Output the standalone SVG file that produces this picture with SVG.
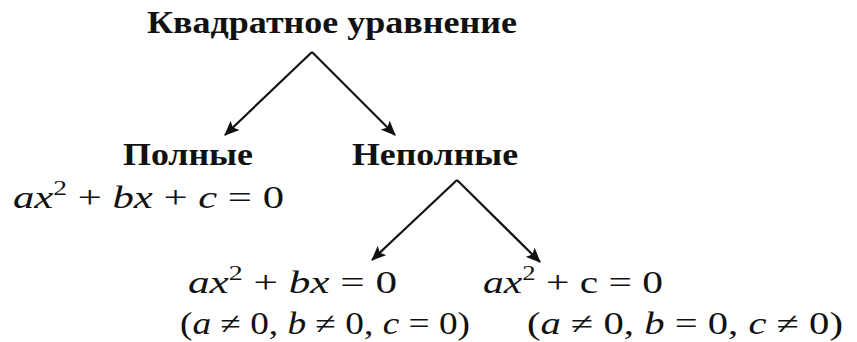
<svg xmlns="http://www.w3.org/2000/svg" width="857" height="342" viewBox="0 0 857 342">
<defs>
<marker id="ah" viewBox="0 0 14 12" refX="13" refY="6" markerWidth="15" markerHeight="13" orient="auto" markerUnits="userSpaceOnUse">
<path d="M0,0 L14,6 L0,12 L3,6 z" fill="#111"/>
</marker>
<style>
.h{font-family:"Liberation Serif","Times New Roman",serif;font-weight:bold;font-size:32px;fill:#111}
.m{font-family:"Liberation Serif","Times New Roman",serif;font-size:31px;fill:#111}
.i{font-style:italic}
.c line{stroke:#111;stroke-width:2.2}
</style>
</defs>
<rect width="857" height="342" fill="#fff"/>
<g class="c">
<line x1="312" y1="52" x2="225" y2="135" marker-end="url(#ah)"/>
<line x1="312" y1="52" x2="395" y2="135" marker-end="url(#ah)"/>
<line x1="457" y1="180" x2="372" y2="260" marker-end="url(#ah)"/>
<line x1="457" y1="180" x2="540" y2="262" marker-end="url(#ah)"/>
</g>
<g id="root"><text class="h" x="147" y="33" textLength="370" lengthAdjust="spacingAndGlyphs">Квадратное уравнение</text></g>
<g id="full">
<text class="h" x="123" y="165" textLength="130" lengthAdjust="spacingAndGlyphs">Полные</text>
<text class="m" x="13" y="208" textLength="271" lengthAdjust="spacingAndGlyphs"><tspan class="i">ax</tspan><tspan font-size="20" dy="-13">2</tspan><tspan dy="13"> + </tspan><tspan class="i">bx</tspan><tspan> + </tspan><tspan class="i">c</tspan><tspan> = 0</tspan></text>
</g>
<g id="incomplete"><text class="h" x="352" y="165" textLength="166" lengthAdjust="spacingAndGlyphs">Неполные</text></g>
<g id="c0">
<text class="m" x="188" y="293" textLength="209" lengthAdjust="spacingAndGlyphs"><tspan class="i">ax</tspan><tspan font-size="20" dy="-13">2</tspan><tspan dy="13"> + </tspan><tspan class="i">bx</tspan><tspan> = 0</tspan></text>
<text class="m" x="180" y="334" textLength="290" lengthAdjust="spacingAndGlyphs">(<tspan class="i">a</tspan> ≠ 0, <tspan class="i">b</tspan> ≠ 0,  <tspan class="i">c</tspan> = 0)</text>
</g>
<g id="b0">
<text class="m" x="483" y="293" textLength="180" lengthAdjust="spacingAndGlyphs"><tspan class="i">ax</tspan><tspan font-size="20" dy="-13">2</tspan><tspan dy="13"> + c = 0</tspan></text>
<text class="m" x="527" y="334" textLength="316" lengthAdjust="spacingAndGlyphs">(<tspan class="i">a</tspan> ≠ 0, <tspan class="i">b</tspan> = 0,  <tspan class="i">c</tspan> ≠ 0)</text>
</g>
</svg>
